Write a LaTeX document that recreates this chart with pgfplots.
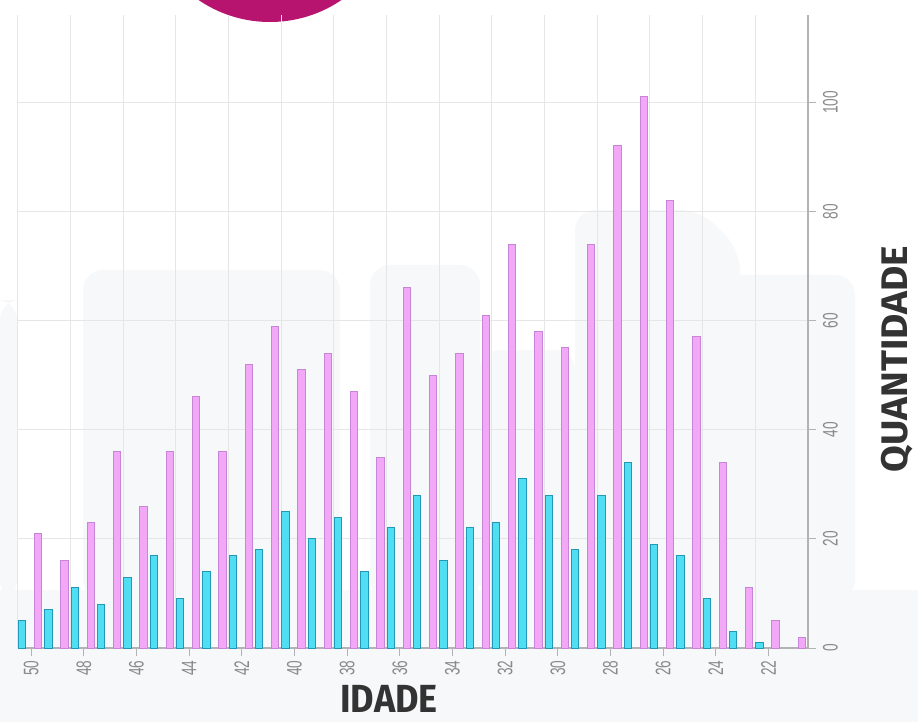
\documentclass[border=0pt]{standalone}
\usepackage{fontspec}
\setmainfont{Liberation Sans}
\newfontfamily\titlefont{Fira Sans}
\usepackage{pgfplots}
\pgfplotsset{compat=1.18}
\definecolor{magcirc}{HTML}{B71470}
\definecolor{pinkfill}{HTML}{F2A8F6}
\definecolor{pinkedge}{HTML}{C685D6}
\definecolor{cyanfill}{HTML}{50DFF2}
\definecolor{cyanedge}{HTML}{2297B8}
\definecolor{gridgray}{HTML}{E6E6E6}
\definecolor{axisgray}{HTML}{B3B3B3}
\definecolor{labgray}{HTML}{8A8A8A}
\definecolor{titlegray}{HTML}{333333}
\definecolor{bgA}{HTML}{F7F8FA}

\begin{document}
\begin{tikzpicture}
\useasboundingbox (0,0) rectangle (459pt,-361pt);
\clip (0,0) rectangle (459pt,-361pt);

% faint background shapes (pixel units, y down)
\begin{scope}[x=0.5pt,y=-0.5pt]
  \fill[bgA] (0,590) rectangle (918,722);
  \fill[bgA, rounded corners=10] (83,270) rectangle (340,600);
  \fill[bgA, rounded corners=10] (370,265) rectangle (480,600);
  \fill[bgA, rounded corners=10] (480,350) rectangle (575,600);
  \fill[bgA, rounded corners=10] (575,210) -- (700,210) -- (740,250) -- (740,600) -- (575,600) -- cycle;
  \fill[bgA, rounded corners=10] (680,275) rectangle (855,600);
  \fill[bgA, rounded corners=10] (0,300) rectangle (17,600);
  \fill[magcirc] (270,-105) circle [radius=127];
\end{scope}

\begin{axis}[
  at={(9pt,-324pt)}, anchor=south west,
  width=395pt, height=316.5pt, scale only axis,
  x dir=reverse,
  xmin=20.5, xmax=50.5, ymin=0, ymax=116,
  axis x line*=bottom, axis y line*=right,
  x axis line style={-, draw=axisgray, line width=0.6pt},
  y axis line style={-, draw=axisgray, line width=1.2pt},
  xtick={22,24,...,50},
  minor xtick={22.5,24.5,...,50.5},
  ytick={0,20,...,100},
  xminorgrids=true, xmajorgrids=false, ymajorgrids=true,
  grid style={gridgray, line width=0.5pt},
  minor grid style={gridgray, line width=0.5pt},
  tick align=outside,
  major tick length=4pt, minor tick length=0pt,
  tick style={axisgray, line width=0.5pt},
  /pgf/number format/assume math mode=true,
  xticklabel style={rotate=90, xscale=0.65, anchor=east,
    font=\fontsize{10.5}{11}\selectfont, text=labgray},
  yticklabel style={rotate=90, xscale=0.65, anchor=north,
    font=\fontsize{10.5}{11}\selectfont, text=labgray},
  clip=false,
]
  % cyan series
  \addplot[ybar, bar width=3.6pt, bar shift=-4.5pt, draw=cyanedge,
           fill=cyanfill, line width=0.5pt]
    coordinates {(50,5)(49,7)(48,11)(47,8)(46,13)(45,17)(44,9)(43,14)
                 (42,17)(41,18)(40,25)(39,20)(38,24)(37,14)(36,22)(35,28)
                 (34,16)(33,22)(32,23)(31,31)(30,28)(29,18)(28,28)(27,34)
                 (26,19)(25,17)(24,9)(23,3)(22,1)};
  % pink series
  \addplot[ybar, bar width=3.6pt, bar shift=3.5pt, draw=pinkedge,
           fill=pinkfill, line width=0.5pt]
    coordinates {(50,21)(49,16)(48,23)(47,36)(46,26)(45,36)(44,46)(43,36)
                 (42,52)(41,59)(40,51)(39,54)(38,47)(37,35)(36,66)(35,50)
                 (34,54)(33,61)(32,74)(31,58)(30,55)(29,74)(28,92)(27,101)
                 (26,82)(25,57)(24,34)(23,11)(22,5)(21,2)};
\end{axis}

\node[font=\titlefont\bfseries\fontsize{19.6}{20}\selectfont, text=titlegray,
      xscale=0.92, inner sep=0pt] at (194.5pt,-349.5pt) {IDADE};
\node[font=\titlefont\bfseries\fontsize{18.5}{19}\selectfont, text=titlegray,
      rotate=90, xscale=1.05, inner sep=0pt] at (448.5pt,-179.5pt) {QUANTIDADE};
\end{tikzpicture}
\end{document}
